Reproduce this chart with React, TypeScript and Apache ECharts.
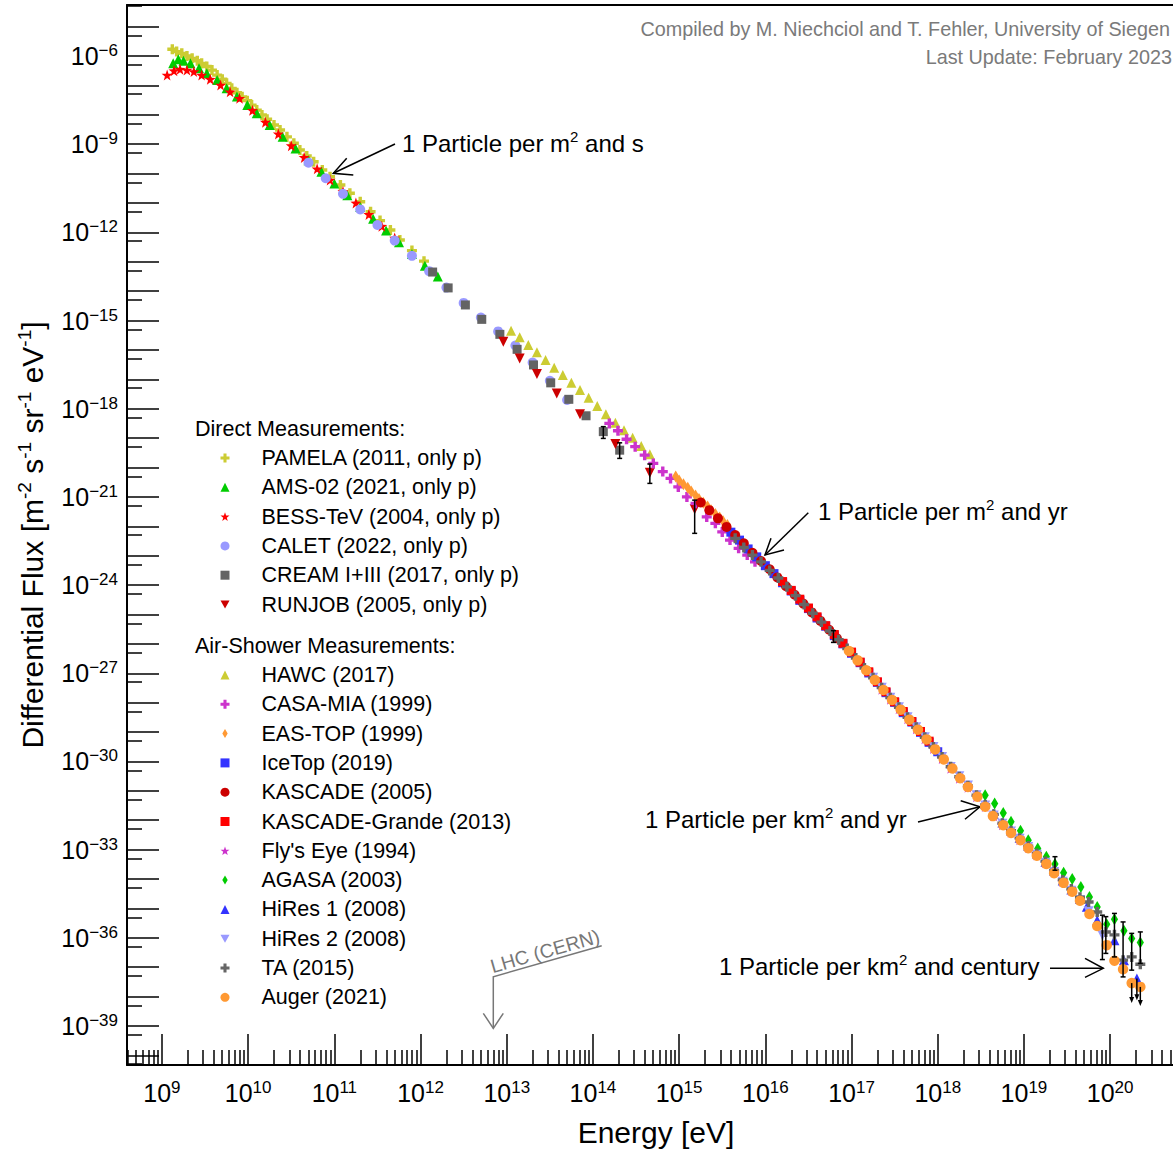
import React, { useEffect, useRef } from "react";
import * as echarts from "echarts";

const FONT = '"Liberation Sans", Arial, Helvetica, sans-serif';

// ---- axis ranges (eV and m^-2 s^-1 sr^-1 eV^-1) ----
const X_MIN = 3.93e8;
const X_MAX = 5.36e20;
const Y_MIN = 4.71e-41;
const Y_MAX = 5.43e-5;

// ---- tick labels ----
const X_LABEL_VALUES = [1e9, 1e10, 1e11, 1e12, 1e13, 1e14, 1e15, 1e16, 1e17, 1e18, 1e19, 1e20];
const Y_LABEL_VALUES = [1e-6, 1e-9, 1e-12, 1e-15, 1e-18, 1e-21, 1e-24, 1e-27, 1e-30, 1e-33, 1e-36, 1e-39];

// ---- data: [log10(E / eV), log10(flux)] ----
const PAMELA = [[9.12,-5.77],[9.17,-5.85],[9.23,-5.91],[9.29,-6.0],[9.35,-6.08],[9.41,-6.16],[9.46,-6.25],[9.52,-6.36],[9.58,-6.48],[9.64,-6.65],[9.7,-6.79],[9.75,-6.93],[9.81,-7.1],[9.87,-7.25],[9.93,-7.39],[9.99,-7.52],[10.04,-7.67],[10.1,-7.84],[10.16,-8.01],[10.22,-8.15],[10.3,-8.35],[10.37,-8.52],[10.45,-8.75],[10.53,-8.97],[10.6,-9.2],[10.68,-9.4],[10.76,-9.6],[10.86,-9.88],[10.95,-10.11],[11.07,-10.39],[11.18,-10.67],[11.3,-10.96],[11.42,-11.3],[11.53,-11.6],[11.65,-11.92],[11.76,-12.26],[11.9,-12.62],[12.04,-12.98]];
const AMS02 = [[9.13,-6.25],[9.19,-6.11],[9.25,-6.16],[9.33,-6.25],[9.43,-6.42],[9.52,-6.59],[9.64,-6.82],[9.75,-7.1],[9.87,-7.38],[9.99,-7.67],[10.1,-7.95],[10.25,-8.35],[10.4,-8.75],[10.55,-9.15],[10.7,-9.55],[10.85,-9.94],[11.0,-10.34],[11.15,-10.74],[11.3,-11.14],[11.45,-11.54],[11.6,-11.94],[11.75,-12.34],[11.9,-12.74],[12.05,-13.14],[12.2,-13.5]];
const BESS = [[9.06,-6.65],[9.14,-6.5],[9.21,-6.45],[9.29,-6.48],[9.37,-6.53],[9.46,-6.65],[9.56,-6.79],[9.68,-6.99],[9.79,-7.22],[9.9,-7.44],[10.05,-7.85],[10.2,-8.25],[10.35,-8.65],[10.5,-9.05],[10.65,-9.45],[10.8,-9.84],[10.95,-10.22],[11.1,-10.61],[11.25,-11.0],[11.4,-11.39],[11.55,-11.79],[11.7,-12.19]];
const CALET = [[10.7,-9.63],[10.9,-10.16],[11.1,-10.69],[11.3,-11.22],[11.5,-11.75],[11.7,-12.28],[11.9,-12.8],[12.1,-13.32],[12.3,-13.88],[12.5,-14.4],[12.7,-14.9],[12.9,-15.37],[13.1,-15.85],[13.3,-16.43],[13.5,-17.05],[13.7,-17.7]];
const CREAM = [[12.14,-13.35],[12.32,-13.89],[12.52,-14.47],[12.71,-14.96],[12.92,-15.47],[13.12,-15.98],[13.31,-16.51],[13.51,-17.12],[13.72,-17.68],[13.92,-18.24],[14.12,-18.78],[14.31,-19.41]];
const RUNJOB = [[12.96,-15.72],[13.15,-16.29],[13.35,-16.82],[13.58,-17.48],[13.85,-18.19],[14.26,-19.2],[14.66,-20.18],[15.18,-21.42]];
const HAWC = [[13.05,-15.35],[13.15,-15.57],[13.25,-15.83],[13.35,-16.08],[13.45,-16.34],[13.55,-16.61],[13.65,-16.85],[13.75,-17.12],[13.85,-17.36],[13.95,-17.63],[14.05,-17.91],[14.15,-18.19],[14.26,-18.48],[14.36,-18.73],[14.46,-18.99],[14.56,-19.27],[14.66,-19.55]];
const CASAMIA = [[14.19,-18.5],[14.29,-18.75],[14.39,-19.04],[14.49,-19.29],[14.6,-19.58],[14.7,-19.86],[14.81,-20.14],[14.9,-20.37],[14.99,-20.66],[15.09,-21.0],[15.19,-21.22],[15.32,-21.68],[15.42,-21.9],[15.5,-22.19],[15.59,-22.47],[15.69,-22.75],[15.79,-22.98],[15.88,-23.21]];
const EASTOP = [[14.96,-20.31],[15.0,-20.44],[15.05,-20.57],[15.1,-20.69],[15.14,-20.82],[15.19,-20.95],[15.23,-21.07],[15.28,-21.2],[15.33,-21.33],[15.37,-21.45],[15.42,-21.58],[15.47,-21.7],[15.51,-21.83],[15.56,-21.96]];
const ICETOP = [[15.6,-22.2],[15.7,-22.47],[15.8,-22.77],[15.9,-23.04],[16.0,-23.34],[16.1,-23.61],[16.2,-23.92],[16.3,-24.2],[16.4,-24.52],[16.5,-24.8],[16.6,-25.12],[16.7,-25.4],[16.8,-25.72],[16.9,-26.0],[17.0,-26.32],[17.1,-26.64],[17.2,-26.99],[17.3,-27.31],[17.4,-27.66],[17.5,-27.99],[17.6,-28.34],[17.7,-28.66],[17.8,-29.01],[17.9,-29.35],[18.0,-29.67]];
const KASCADE = [[15.25,-21.19],[15.35,-21.45],[15.45,-21.73],[15.55,-22.02],[15.65,-22.3],[15.75,-22.58],[15.85,-22.9],[15.95,-23.18],[16.05,-23.46],[16.14,-23.74],[16.24,-24.04],[16.34,-24.33],[16.44,-24.63],[16.54,-24.93],[16.64,-25.22],[16.74,-25.52],[16.83,-25.81]];
const KGRANDE = [[16.2,-23.88],[16.3,-24.18],[16.4,-24.48],[16.5,-24.78],[16.6,-25.08],[16.7,-25.38],[16.8,-25.68],[16.9,-25.98],[17.0,-26.28],[17.1,-26.62],[17.2,-26.95],[17.3,-27.29],[17.4,-27.63],[17.5,-27.97],[17.6,-28.3],[17.7,-28.64],[17.8,-28.98],[17.9,-29.31]];
const FLYSEYE = [[17.35,-27.54],[17.45,-27.88],[17.55,-28.21],[17.65,-28.55],[17.75,-28.89],[17.85,-29.23],[17.95,-29.56],[18.05,-29.9],[18.15,-30.23],[18.25,-30.57],[18.35,-30.88],[18.45,-31.2],[18.55,-31.53],[18.65,-31.85],[18.75,-32.15],[18.85,-32.41],[18.95,-32.66],[19.05,-32.93],[19.15,-33.18],[19.25,-33.45],[19.35,-33.76],[19.45,-34.08],[19.55,-34.39]];
const AGASA = [[18.55,-31.15],[18.66,-31.43],[18.76,-31.75],[18.85,-32.05],[18.96,-32.36],[19.05,-32.68],[19.16,-32.96],[19.26,-33.24],[19.36,-33.49],[19.46,-33.79],[19.56,-34.0],[19.66,-34.27],[19.76,-34.61],[19.85,-34.95],[19.96,-35.54],[20.05,-35.37],[20.16,-35.76],[20.25,-36.02],[20.35,-36.16]];
const HIRES1 = [[18.55,-31.45],[18.65,-31.78],[18.75,-32.08],[18.85,-32.35],[18.95,-32.6],[19.05,-32.87],[19.15,-33.13],[19.25,-33.41],[19.35,-33.72],[19.45,-34.05],[19.55,-34.36],[19.65,-34.68],[19.73,-34.94],[19.85,-35.4],[20.05,-36.08],[20.16,-36.76],[20.31,-37.38]];
const HIRES2 = [[17.25,-27.15],[17.35,-27.49],[17.45,-27.83],[17.55,-28.16],[17.65,-28.5],[17.75,-28.84],[17.85,-29.18],[17.95,-29.51],[18.05,-29.85],[18.15,-30.19],[18.25,-30.5],[18.35,-30.82],[18.45,-31.15],[18.55,-31.5],[18.65,-31.84],[18.75,-32.12],[18.85,-32.38],[18.95,-32.63],[19.05,-32.91],[19.15,-33.17],[19.25,-33.45],[19.35,-33.76],[19.45,-34.09],[19.55,-34.4],[19.65,-34.72],[19.75,-35.1],[19.91,-35.91]];
const TA = [[15.65,-22.41],[15.75,-22.72],[15.85,-22.98],[15.95,-23.21],[16.05,-23.5],[16.15,-23.76],[16.25,-24.06],[16.35,-24.36],[16.45,-24.66],[16.55,-24.96],[16.65,-25.26],[16.75,-25.56],[16.85,-25.86],[16.95,-26.16],[17.05,-26.48],[17.15,-26.82],[17.25,-27.15],[17.35,-27.49],[17.45,-27.83],[17.55,-28.16],[17.65,-28.5],[17.75,-28.84],[17.85,-29.18],[17.95,-29.51],[18.05,-29.85],[18.15,-30.18],[18.25,-30.52],[18.35,-30.83],[18.45,-31.15],[18.55,-31.48],[18.65,-31.8],[18.75,-32.1],[18.85,-32.36],[18.95,-32.61],[19.05,-32.88],[19.15,-33.13],[19.25,-33.4],[19.35,-33.71],[19.45,-34.03],[19.55,-34.34],[19.65,-34.62],[19.75,-34.78],[19.85,-35.12],[19.95,-35.8],[20.05,-35.9],[20.15,-36.76],[20.25,-36.65],[20.35,-36.9]];
const AUGER = [[16.97,-26.24],[17.07,-26.56],[17.17,-26.9],[17.27,-27.23],[17.37,-27.57],[17.47,-27.91],[17.57,-28.24],[17.67,-28.58],[17.77,-28.92],[17.87,-29.25],[17.97,-29.59],[18.07,-29.93],[18.17,-30.24],[18.26,-30.57],[18.35,-30.87],[18.46,-31.2],[18.55,-31.54],[18.64,-31.86],[18.76,-32.17],[18.85,-32.43],[18.96,-32.68],[19.05,-32.95],[19.15,-33.21],[19.26,-33.49],[19.35,-33.8],[19.46,-34.13],[19.56,-34.43],[19.65,-34.74],[19.76,-35.19],[19.85,-35.6],[19.96,-36.25],[20.05,-36.78],[20.15,-37.07],[20.25,-37.54],[20.35,-37.67]];

// error bars: [log10 E, log10 upper, log10 lower]
const ERROR_BARS = [[14.12,-18.61,-19.01],[14.31,-19.16,-19.69],[14.66,-19.88,-20.54],[15.18,-21.11,-22.24],[16.79,-25.55,-25.95],[19.36,-33.24,-33.7],[19.91,-35.23,-36.74],[19.95,-35.28,-36.53],[20.05,-35.17,-36.65],[20.15,-35.46,-37.33],[20.25,-35.85,-37.1],[20.35,-35.8,-36.87]];
// upper limits: [log10 E, log10 from, log10 arrow tip]
const UPPER_LIMITS = [[20.25,-37.54,-38.22],[20.31,-37.38,-38.12],[20.35,-37.67,-38.32]];

const DIRECT_NAMES = ["PAMELA (2011, only p)", "AMS-02 (2021, only p)", "BESS-TeV (2004, only p)", "CALET (2022, only p)", "CREAM I+III (2017, only p)", "RUNJOB (2005, only p)"];
const AIR_NAMES = ["HAWC (2017)", "CASA-MIA (1999)", "EAS-TOP (1999)", "IceTop (2019)", "KASCADE (2005)", "KASCADE-Grande (2013)", "Fly's Eye (1994)", "AGASA (2003)", "HiRes 1 (2008)", "HiRes 2 (2008)", "TA (2015)", "Auger (2021)"];

const PLUS = "path://M3.3,0H6.7V3.3H10V6.7H6.7V10H3.3V6.7H0V3.3H3.3Z";
const STAR = "path://M5,0L6.18,3.38L9.76,3.45L6.9,5.62L7.94,9.05L5,7L2.06,9.05L3.1,5.62L0.24,3.45L3.82,3.38Z";
const DIAMOND = "path://M3,0L6,5L3,10L0,5Z";
const TRI_DOWN = "path://M0,0L10,0L5,9Z";

const toXY = (pts: number[][]) => pts.map((p) => [Math.pow(10, p[0]), Math.pow(10, p[1])]);

function decadeTicks(fromExp: number, toExp: number, mult: number, lo: number, hi: number) {
  const out: number[] = [];
  for (let n = fromExp; n <= toExp; n++) {
    const v = mult * Math.pow(10, n);
    if (v > lo && v < hi) out.push(v);
  }
  return out;
}

const X_MINOR: number[] = [];
for (let k = 2; k <= 9; k++) X_MINOR.push(...decadeTicks(8, 20, k, X_MIN, X_MAX));
const Y_MAJOR = decadeTicks(-41, -4, 1, Y_MIN, Y_MAX);
const Y_MINOR = decadeTicks(-41, -4, 5, Y_MIN, Y_MAX);

const supLabel = (v: number) => {
  const e = Math.round(Math.log10(v));
  return `{b|10}{s|${e < 0 ? "\u2212" + -e : e}}`;
};

const tickRich = {
  b: { fontSize: 25, lineHeight: 28, fontFamily: FONT, color: "#000" },
  s: { fontSize: 17, lineHeight: 14, verticalAlign: "top", fontFamily: FONT, color: "#000" },
};

function scatter(name: string, pts: number[][], symbol: string, color: string, size: number | number[], keep = false) {
  return {
    type: "scatter",
    name,
    data: toXY(pts),
    symbol,
    symbolSize: size,
    symbolKeepAspect: keep,
    itemStyle: { color, opacity: 1 },
    xAxisIndex: 0,
    yAxisIndex: 0,
    emphasis: { disabled: true },
    silent: true,
    z: 3,
  };
}

const annot = (x: number, y: number, before: string, sup: string, after: string) => ({
  type: "text",
  x,
  y,
  silent: true,
  style: {
    text: `{n|${before}}{s|${sup}}{n|${after}}`,
    align: "left",
    verticalAlign: "middle",
    rich: {
      n: { fontSize: 24, lineHeight: 28, fontFamily: FONT, fill: "#000" },
      s: { fontSize: 15, lineHeight: 14, verticalAlign: "top", fontFamily: FONT, fill: "#000" },
    },
  },
});

const arrow = (pts: number[][], color = "#000") => ({
  type: "polyline",
  silent: true,
  shape: { points: pts },
  style: { stroke: color, lineWidth: 1.5, fill: null },
});

export default function App() {
  const ref = useRef<HTMLDivElement>(null);

  useEffect(() => {
    if (!ref.current) return;
    const chart = echarts.init(ref.current, undefined, { renderer: "svg" });

    const legendBase = {
      orient: "vertical",
      left: 220.5,
      padding: 0,
      itemWidth: 9,
      itemHeight: 9,
      itemGap: 7.3,
      selectedMode: false,
      textStyle: { fontSize: 21.5, lineHeight: 20, fontFamily: FONT, color: "#000", padding: [0, 0, 0, 27] },
    };

    const option: any = {
      animation: false,
      backgroundColor: "#fff",
      grid: { left: 127, right: 0, top: 5, bottom: 87, containLabel: false },
      xAxis: [
        {
          type: "log",
          logBase: 10,
          min: X_MIN,
          max: X_MAX,
          position: "bottom",
          axisLine: { show: true, onZero: false, lineStyle: { color: "#000", width: 2 } },
          axisTick: { show: true, inside: true, length: 31, customValues: X_LABEL_VALUES, lineStyle: { color: "#000", width: 1.5 } },
          axisLabel: { show: true, customValues: X_LABEL_VALUES, formatter: supLabel, margin: 14, rich: tickRich },
          splitLine: { show: false },
          name: "Energy [eV]",
          nameLocation: "middle",
          nameGap: 52,
          nameTextStyle: { fontSize: 30, fontFamily: FONT, color: "#000", padding: [0, 0, 0, 12] },
        },
        {
          type: "log",
          logBase: 10,
          min: X_MIN,
          max: X_MAX,
          position: "bottom",
          axisLine: { show: false, onZero: false },
          axisTick: { show: true, inside: true, length: 15, customValues: X_MINOR, lineStyle: { color: "#000", width: 1.5 } },
          axisLabel: { show: false },
          splitLine: { show: false },
        },
        {
          type: "log",
          logBase: 10,
          min: X_MIN,
          max: X_MAX,
          position: "top",
          axisLine: { show: true, onZero: false, lineStyle: { color: "#000", width: 2 } },
          axisTick: { show: false },
          axisLabel: { show: false },
          splitLine: { show: false },
        },
      ],
      yAxis: [
        {
          type: "log",
          logBase: 10,
          min: Y_MIN,
          max: Y_MAX,
          position: "left",
          axisLine: { show: true, onZero: false, lineStyle: { color: "#000", width: 2 } },
          axisTick: { show: true, inside: true, length: 32, customValues: Y_MAJOR, lineStyle: { color: "#000", width: 1.5 } },
          axisLabel: { show: true, customValues: Y_LABEL_VALUES, formatter: supLabel, margin: 9, rich: tickRich },
          splitLine: { show: false },
          name: "{n|Differential Flux [m}{s|-2}{n| s}{s|-1}{n| sr}{s|-1}{n| eV}{s|-1}{n|]}",
          nameLocation: "middle",
          nameGap: 78,
          nameTextStyle: {
            rich: {
              n: { fontSize: 30, lineHeight: 34, fontFamily: FONT, color: "#000" },
              s: { fontSize: 19, lineHeight: 17, verticalAlign: "top", fontFamily: FONT, color: "#000" },
            },
          },
        },
        {
          type: "log",
          logBase: 10,
          min: Y_MIN,
          max: Y_MAX,
          position: "left",
          axisLine: { show: false, onZero: false },
          axisTick: { show: true, inside: true, length: 15, customValues: Y_MINOR, lineStyle: { color: "#000", width: 1.5 } },
          axisLabel: { show: false },
          splitLine: { show: false },
        },
      ],
      legend: [
        { ...legendBase, top: 447, data: DIRECT_NAMES },
        { ...legendBase, top: 664, data: AIR_NAMES },
      ],
      series: [
        scatter(DIRECT_NAMES[0], PAMELA, PLUS, "#cccc33", 10),
        scatter(DIRECT_NAMES[1], AMS02, "triangle", "#00cc00", 10),
        scatter(DIRECT_NAMES[2], BESS, STAR, "#ff0000", 11),
        scatter(DIRECT_NAMES[3], CALET, "circle", "#9999ff", 10),
        scatter(DIRECT_NAMES[4], CREAM, "rect", "#636363", 9),
        scatter(DIRECT_NAMES[5], RUNJOB, TRI_DOWN, "#cc0000", 10),
        scatter(AIR_NAMES[0], HAWC, "triangle", "#cccc33", 10),
        scatter(AIR_NAMES[1], CASAMIA, PLUS, "#cc33cc", 10),
        scatter(AIR_NAMES[2], EASTOP, DIAMOND, "#ff9933", 12, true),
        scatter(AIR_NAMES[3], ICETOP, "rect", "#3333ff", 9),
        scatter(AIR_NAMES[4], KASCADE, "circle", "#cc0000", 10),
        scatter(AIR_NAMES[5], KGRANDE, "rect", "#ff0000", 9),
        scatter(AIR_NAMES[6], FLYSEYE, STAR, "#cc33cc", 11),
        scatter(AIR_NAMES[7], AGASA, DIAMOND, "#00cc00", 12, true),
        scatter(AIR_NAMES[8], HIRES1, "triangle", "#3333ff", 10),
        scatter(AIR_NAMES[9], HIRES2, TRI_DOWN, "#9999ff", 10),
        scatter(AIR_NAMES[10], TA, PLUS, "#666666", 10),
        scatter(AIR_NAMES[11], AUGER, "circle", "#ff9933", 10.5),
        {
          type: "custom",
          name: "error bars",
          xAxisIndex: 0,
          yAxisIndex: 0,
          silent: true,
          z: 4,
          data: toXY(ERROR_BARS.map((b) => [b[0], b[1]])).map((p, i) => [p[0], p[1], Math.pow(10, ERROR_BARS[i][2])]),
          renderItem: (params: any, api: any) => {
            const a = api.coord([api.value(0), api.value(1)]);
            const b = api.coord([api.value(0), api.value(2)]);
            const st = { stroke: "#000", lineWidth: 1.5 };
            return {
              type: "group",
              children: [
                { type: "line", shape: { x1: a[0], y1: a[1], x2: b[0], y2: b[1] }, style: st },
                { type: "line", shape: { x1: a[0] - 2.5, y1: a[1], x2: a[0] + 2.5, y2: a[1] }, style: st },
                { type: "line", shape: { x1: b[0] - 2.5, y1: b[1], x2: b[0] + 2.5, y2: b[1] }, style: st },
              ],
            };
          },
        },
        {
          type: "custom",
          name: "upper limits",
          xAxisIndex: 0,
          yAxisIndex: 0,
          silent: true,
          z: 4,
          data: toXY(UPPER_LIMITS.map((b) => [b[0], b[1]])).map((p, i) => [p[0], p[1], Math.pow(10, UPPER_LIMITS[i][2])]),
          renderItem: (params: any, api: any) => {
            const a = api.coord([api.value(0), api.value(1)]);
            const b = api.coord([api.value(0), api.value(2)]);
            return {
              type: "group",
              children: [
                { type: "line", shape: { x1: a[0], y1: a[1], x2: b[0], y2: b[1] - 4 }, style: { stroke: "#000", lineWidth: 1.5 } },
                { type: "polygon", shape: { points: [[b[0] - 2.5, b[1] - 6], [b[0] + 2.5, b[1] - 6], [b[0], b[1]]] }, style: { fill: "#000" } },
              ],
            };
          },
        },
      ],
      graphic: [
        { type: "text", x: 1170, y: 29, silent: true, style: { text: "Compiled by M. Niechciol and T. Fehler, University of Siegen", align: "right", verticalAlign: "middle", fontSize: 19.8, fontFamily: FONT, fill: "#7a7a7a" } },
        { type: "text", x: 1172, y: 57, silent: true, style: { text: "Last Update: February 2023", align: "right", verticalAlign: "middle", fontSize: 19.8, fontFamily: FONT, fill: "#7a7a7a" } },
        { type: "text", x: 195, y: 429, silent: true, style: { text: "Direct Measurements:", align: "left", verticalAlign: "middle", fontSize: 21.5, fontFamily: FONT, fill: "#000" } },
        { type: "text", x: 195, y: 646, silent: true, style: { text: "Air-Shower Measurements:", align: "left", verticalAlign: "middle", fontSize: 21.5, fontFamily: FONT, fill: "#000" } },
        annot(402, 143, "1 Particle per m", "2", " and s"),
        arrow([[395, 144], [333.3, 173.3]]),
        arrow([[353.3, 175], [333.3, 173.3], [346.7, 158.3]]),
        annot(818, 511, "1 Particle per m", "2", " and yr"),
        arrow([[808.3, 512.7], [765, 555]]),
        arrow([[784, 550], [765, 555], [771, 538.3]]),
        annot(645, 819, "1 Particle per km", "2", " and yr"),
        arrow([[918, 822], [980, 806.7]]),
        arrow([[960.7, 800.7], [980, 806.7], [965, 819.3]]),
        annot(719, 966, "1 Particle per km", "2", " and century"),
        arrow([[1050, 968.3], [1103.3, 968.3]]),
        arrow([[1085, 958.3], [1103.3, 968.3], [1085, 977.3]]),
        arrow([[601.7, 945.7], [493.3, 976.7], [493.3, 1028.3]], "#777777"),
        arrow([[483.3, 1013.3], [493.3, 1028.3], [503.3, 1013.3]], "#777777"),
        { type: "text", x: 545, y: 951, rotation: 0.279, silent: true, style: { text: "LHC (CERN)", align: "center", verticalAlign: "middle", fontSize: 19.5, fontFamily: FONT, fill: "#777777" } },
      ],
    };

    chart.setOption(option);
    return () => chart.dispose();
  }, []);

  return (
    <div
      ref={ref}
      style={{ position: "fixed", left: 0, top: 0, width: 1173, height: 1152, background: "#fff" }}
    />
  );
}
